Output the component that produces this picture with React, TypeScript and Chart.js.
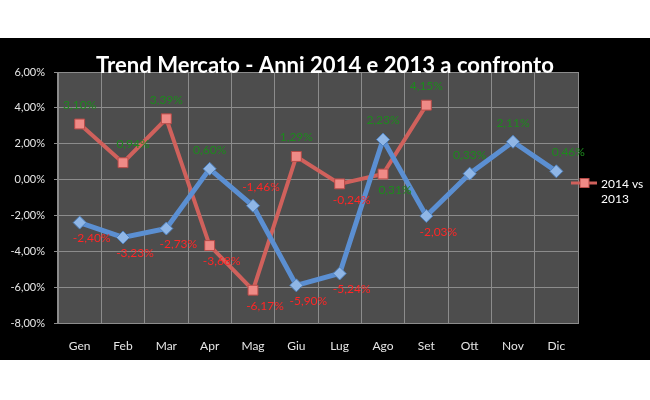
import React, { useEffect, useRef } from "react";
import { Chart, registerables } from "chart.js";
Chart.register(...registerables);

const months = ["Gen", "Feb", "Mar", "Apr", "Mag", "Giu", "Lug", "Ago", "Set", "Ott", "Nov", "Dic"];
const trend2014vs2013 = [3.1, 0.94, 3.39, -3.68, -6.17, 1.29, -0.24, 0.31, 4.15, null, null, null];
const trendBlue = [-2.4, -3.23, -2.73, 0.6, -1.46, -5.9, -5.24, 2.23, -2.03, 0.33, 2.11, 0.46];
const yMin = -8;
const yMax = 6;
const yStep = 2;
const legendLines = ["2014 vs", "2013"];
const titleText = "Trend Mercato - Anni 2014 e 2013 a confronto";

const fmt = (v: number) => v.toFixed(2).replace(".", ",") + "%";

export default function App() {
  const ref = useRef<HTMLCanvasElement>(null);
  useEffect(() => {
    document.body.style.margin = "0";
    const canvas = ref.current!;

    const bgPlugin = {
      id: "bg",
      beforeDraw(chart: any) {
        const { ctx, chartArea: a } = chart;
        ctx.save();
        ctx.fillStyle = "#000";
        ctx.fillRect(0, 0, chart.width, chart.height);
        ctx.fillStyle = "#4d4d4d";
        ctx.fillRect(a.left, a.top, a.right - a.left, a.bottom - a.top);
        ctx.restore();
      },
    };

    const labelPlugin = {
      id: "labels",
      afterDatasetsDraw(chart: any) {
        const ctx = chart.ctx;
        ctx.save();
        ctx.font = "12px Lato";
        ctx.textAlign = "center";
        ctx.textBaseline = "middle";
        chart.data.datasets.forEach((ds: any, di: number) => {
          const meta = chart.getDatasetMeta(di);
          meta.data.forEach((pt: any, i: number) => {
            const v = ds.data[i];
            if (v === null || v === undefined) return;
            let above = v >= 0;
            let dx = above ? 0 : 12;
            if (ds.key === "red" && i === 7) { above = false; dx = 12; }
            if (ds.key === "blue" && i === 4) { above = true; dx = 8; }
            if (ds.key === "blue" && i === 11) { dx = 12; }
            if (ds.key === "red" && i === 1) { dx = 10; }
            const dy = above ? -19 : 16;
            ctx.fillStyle = v >= 0 ? "#1d8a1d" : "#ff2626";
            ctx.fillText(fmt(v), pt.x + dx, pt.y + dy);
          });
        });
        ctx.restore();
      },
      afterDraw(chart: any) {
        const ctx = chart.ctx;
        ctx.save();
        // title
        let size = 24;
        ctx.font = `bold ${size}px Lato`;
        const w = ctx.measureText(titleText).width;
        size = (size * 458) / w;
        ctx.font = `bold ${size}px Lato`;
        ctx.fillStyle = "#ffffff";
        ctx.textAlign = "center";
        ctx.textBaseline = "alphabetic";
        ctx.fillText(titleText, 325, 35);
        // legend
        const ly = 145;
        ctx.strokeStyle = "#d0615c";
        ctx.lineWidth = 3;
        ctx.beginPath();
        ctx.moveTo(571, ly);
        ctx.lineTo(597, ly);
        ctx.stroke();
        ctx.fillStyle = "#ef8a86";
        ctx.strokeStyle = "#b84a47";
        ctx.lineWidth = 1;
        ctx.fillRect(580, ly - 4.5, 9, 9);
        ctx.strokeRect(580, ly - 4.5, 9, 9);
        ctx.fillStyle = "#ffffff";
        ctx.font = "12px Lato";
        ctx.textAlign = "left";
        ctx.textBaseline = "middle";
        legendLines.forEach((t, k) => ctx.fillText(t, 601, ly + 1 + k * 15));
        ctx.restore();
      },
    };

    const chart = new Chart(canvas, {
      type: "line",
      data: {
        labels: months,
        datasets: [
          {
            key: "red",
            label: legendLines.join(" "),
            data: trend2014vs2013,
            borderColor: "#d0615c",
            borderWidth: 4,
            pointStyle: "rect",
            pointRadius: 7,
            pointBackgroundColor: "#ef8a86",
            pointBorderColor: "#b84a47",
            pointBorderWidth: 1,
            order: 2,
            spanGaps: false,
          } as any,
          {
            key: "blue",
            label: "",
            data: trendBlue,
            borderColor: "#5b8fd2",
            borderWidth: 5,
            pointStyle: "rectRot",
            pointRadius: 6.5,
            pointBackgroundColor: "#8fb6e6",
            pointBorderColor: "#4f81bd",
            pointBorderWidth: 1,
            order: 1,
          } as any,
        ],
      },
      options: {
        animation: false,
        responsive: false,
        devicePixelRatio: 1,
        layout: { padding: { top: 34, right: 72, left: 0, bottom: 0 } },
        plugins: { legend: { display: false }, title: { display: false }, tooltip: { enabled: false } },
        scales: {
          x: {
            offset: true,
            grid: { offset: true, color: "#8c8c8c", lineWidth: 1, drawTicks: false },
            border: { color: "#8c8c8c" },
            ticks: { color: "#e6e6e6", font: { family: "Lato", size: 12 }, padding: 16 },
            afterFit(s: any) { s.height = 37; },
          },
          y: {
            min: yMin,
            max: yMax,
            ticks: {
              stepSize: yStep,
              color: "#e6e6e6",
              font: { family: "Lato", size: 11 },
              padding: 9,
              callback: (v: any) => fmt(Number(v)),
            },
            grid: { color: "#8c8c8c", lineWidth: 1, tickLength: 4 },
            border: { color: "#8c8c8c" },
            afterFit(s: any) { s.width = 58; },
          },
        },
      },
      plugins: [bgPlugin, labelPlugin],
    });
    return () => chart.destroy();
  }, []);

  return (
    <div style={{ position: "absolute", left: 0, top: 38, width: 650, height: 322, background: "#000" }}>
      <canvas ref={ref} width={650} height={322} />
    </div>
  );
}
